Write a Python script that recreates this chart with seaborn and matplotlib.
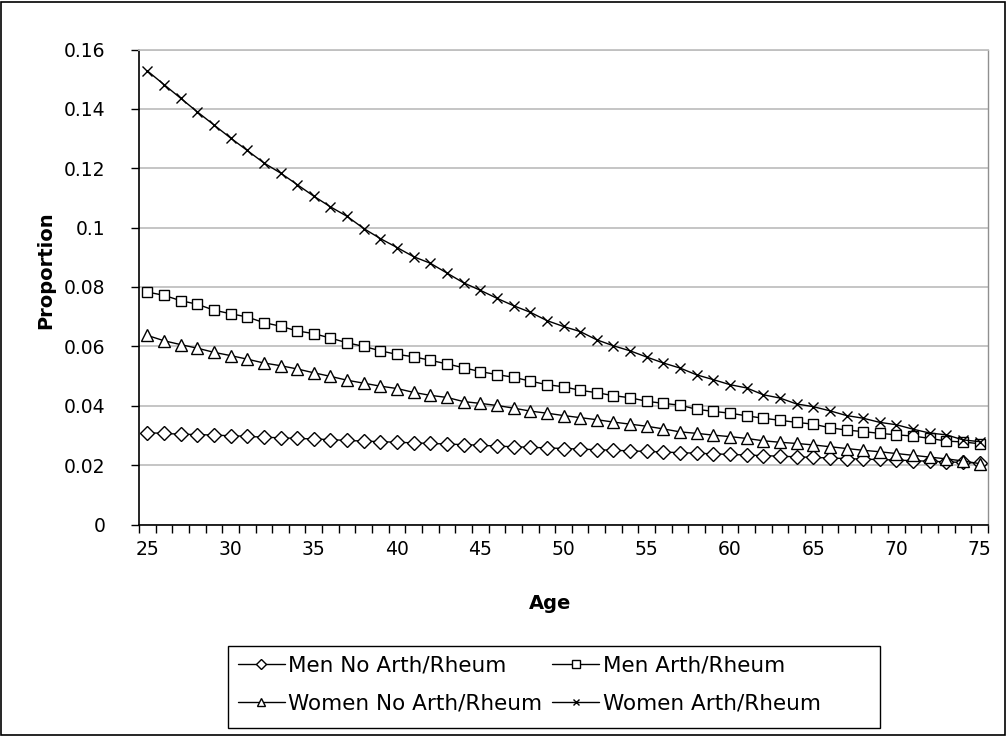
import numpy as np
import pandas as pd
import matplotlib
matplotlib.use("Agg")
import matplotlib.pyplot as plt
from matplotlib.patches import Rectangle
import seaborn as sns

ages = list(range(25, 76))

men_no_arth = [0.0309, 0.0307, 0.0304, 0.0303, 0.0301, 0.0299, 0.0297, 0.0294, 0.0292, 0.0290,
               0.0288, 0.0286, 0.0283, 0.0281, 0.0279, 0.0277, 0.0275, 0.0273, 0.0271, 0.0269,
               0.0267, 0.0264, 0.0262, 0.0260, 0.0258, 0.0256, 0.0254, 0.0252, 0.0250, 0.0248,
               0.0246, 0.0244, 0.0242, 0.0240, 0.0238, 0.0236, 0.0234, 0.0232, 0.0230, 0.0228,
               0.0226, 0.0224, 0.0222, 0.0220, 0.0219, 0.0217, 0.0215, 0.0213, 0.0211, 0.0209,
               0.0207]

men_arth = [0.0783, 0.0772, 0.0754, 0.0742, 0.0722, 0.0710, 0.0699, 0.0680, 0.0668, 0.0652,
            0.0643, 0.0628, 0.0612, 0.0600, 0.0585, 0.0573, 0.0565, 0.0553, 0.0541, 0.0528,
            0.0515, 0.0505, 0.0496, 0.0483, 0.0471, 0.0464, 0.0452, 0.0444, 0.0434, 0.0427,
            0.0415, 0.0408, 0.0402, 0.0388, 0.0381, 0.0375, 0.0366, 0.0358, 0.0351, 0.0344,
            0.0338, 0.0326, 0.0318, 0.0313, 0.0307, 0.0302, 0.0298, 0.0290, 0.0281, 0.0278,
            0.0272]

women_no_arth = [0.0637, 0.0619, 0.0606, 0.0594, 0.0580, 0.0569, 0.0557, 0.0544, 0.0535, 0.0524,
                 0.0511, 0.0499, 0.0486, 0.0476, 0.0466, 0.0458, 0.0445, 0.0435, 0.0428, 0.0414,
                 0.0408, 0.0401, 0.0392, 0.0382, 0.0375, 0.0367, 0.0360, 0.0353, 0.0345, 0.0338,
                 0.0331, 0.0322, 0.0312, 0.0307, 0.0301, 0.0296, 0.0290, 0.0282, 0.0277, 0.0273,
                 0.0268, 0.0262, 0.0256, 0.0250, 0.0245, 0.0239, 0.0233, 0.0227, 0.0221, 0.0214,
                 0.0205]

women_arth = [0.1528, 0.1482, 0.1436, 0.1390, 0.1346, 0.1302, 0.1260, 0.1218, 0.1184, 0.1145,
              0.1106, 0.1070, 0.1038, 0.0997, 0.0963, 0.0933, 0.0902, 0.0880, 0.0847, 0.0814,
              0.0789, 0.0762, 0.0737, 0.0715, 0.0687, 0.0667, 0.0650, 0.0622, 0.0602, 0.0585,
              0.0564, 0.0544, 0.0527, 0.0504, 0.0488, 0.0471, 0.0460, 0.0437, 0.0426, 0.0406,
              0.0397, 0.0383, 0.0367, 0.0358, 0.0344, 0.0336, 0.0321, 0.0308, 0.0302, 0.0285,
              0.0279]

series_names = ["Men No Arth/Rheum", "Men Arth/Rheum", "Women No Arth/Rheum", "Women Arth/Rheum"]
series_values = [men_no_arth, men_arth, women_no_arth, women_arth]
x_tick_labels = ["25", "30", "35", "40", "45", "50", "55", "60", "65", "70", "75"]
y_tick_labels = ["0", "0.02", "0.04", "0.06", "0.08", "0.1", "0.12", "0.14", "0.16"]

sns.set_theme(style="white")
plt.rcParams["font.family"] = ["DejaVu Sans"]
plt.rcParams["text.color"] = "black"
plt.rcParams["axes.labelcolor"] = "black"
plt.rcParams["xtick.color"] = "black"
plt.rcParams["ytick.color"] = "black"

W, H = 1007, 736
fig = plt.figure(figsize=(W / 100, H / 100), dpi=100)
fig.patch.set_facecolor("white")

ax_left, ax_right, ax_top, ax_bottom = 139, 988, 49.5, 524.5
ax = fig.add_axes([ax_left / W, 1 - ax_bottom / H, (ax_right - ax_left) / W, (ax_bottom - ax_top) / H])

styles = {
    "Men No Arth/Rheum": dict(marker="D", ms=7.3),
    "Men Arth/Rheum": dict(marker="s", ms=7.8),
    "Women No Arth/Rheum": dict(marker="^", ms=8.5),
    "Women Arth/Rheum": dict(marker="x", ms=6.8),
}

for name, vals in zip(series_names, series_values):
    df = pd.DataFrame({"Age": ages, "Proportion": vals})
    st = styles[name]
    sns.lineplot(data=df, x="Age", y="Proportion", ax=ax, color="black", lw=1.0,
                 marker=st["marker"], ms=st["ms"], mfc="white", mec="black", mew=1.0,
                 label=name, legend=False)

if ax.get_legend() is not None:
    ax.get_legend().remove()

ax.set_xlim(24.5, 75.5)
ax.set_ylim(0, 0.16)

tick_fs = 13.5
label_pos = [int(t) for t in x_tick_labels]
ax.set_xticks(label_pos)
ax.set_xticklabels(x_tick_labels, fontsize=tick_fs)
ax.set_xticks(np.arange(24.5, 75.6, 1.0), minor=True)
ax.tick_params(axis="x", which="major", length=0, pad=11)
ax.tick_params(axis="x", which="minor", length=6, width=1, direction="out", color="black", bottom=True)

yt = [float(t) for t in y_tick_labels]
ax.set_yticks(yt)
ax.set_yticklabels(y_tick_labels, fontsize=tick_fs)
ax.tick_params(axis="y", which="major", length=6, width=1, direction="out", color="black", left=True, pad=18)

ax.yaxis.grid(True, color="#c0c0c0", lw=1.3)
ax.xaxis.grid(False)
ax.set_axisbelow(True)

for side in ["left", "bottom"]:
    ax.spines[side].set_color("black")
    ax.spines[side].set_linewidth(1.2)
ax.spines["right"].set_color("#909090")
ax.spines["right"].set_linewidth(1.0)
ax.spines["top"].set_color("#c0c0c0")
ax.spines["top"].set_linewidth(1.3)

ax.set_ylabel("Proportion", fontsize=14, fontweight="bold")
ax.yaxis.set_label_coords((55 - ax_left) / (ax_right - ax_left), (ax_bottom - 270) / (ax_bottom - ax_top))
ax.set_xlabel("Age", fontsize=14, fontweight="bold")
ax.xaxis.set_label_coords((550 - ax_left) / (ax_right - ax_left), -(594 - ax_bottom) / (ax_bottom - ax_top))
ax.xaxis.label.set_va("top")

# legend box (drawn as a frame of the reference size) and its entries
lx0, lx1, ly0, ly1 = 228, 880, 646, 728
fig.patches.append(Rectangle((lx0 / W, 1 - ly1 / H), (lx1 - lx0) / W, (ly1 - ly0) / H,
                             transform=fig.transFigure, fill=False, edgecolor="black", lw=1.0, zorder=5))

handles, labels = ax.get_legend_handles_labels()
order = [labels.index(n) for n in ["Men No Arth/Rheum", "Women No Arth/Rheum", "Men Arth/Rheum", "Women Arth/Rheum"]]
leg = fig.legend([handles[i] for i in order], [labels[i] for i in order], ncol=2,
                 loc="upper left", bbox_to_anchor=(lx0 / W, 1 - ly0 / H),
                 fontsize=15.5, frameon=False, markerscale=0.7, handlelength=2.2,
                 handletextpad=0.15, columnspacing=0.45, labelspacing=0.85, borderpad=0.45,
                 borderaxespad=0.0)

fig.patches.append(Rectangle((1 / W, 1 / H), 1 - 3 / W, 1 - 3 / H, transform=fig.transFigure,
                             fill=False, edgecolor="black", lw=1.2))

fig.savefig("out.png", dpi=100, facecolor="white")
